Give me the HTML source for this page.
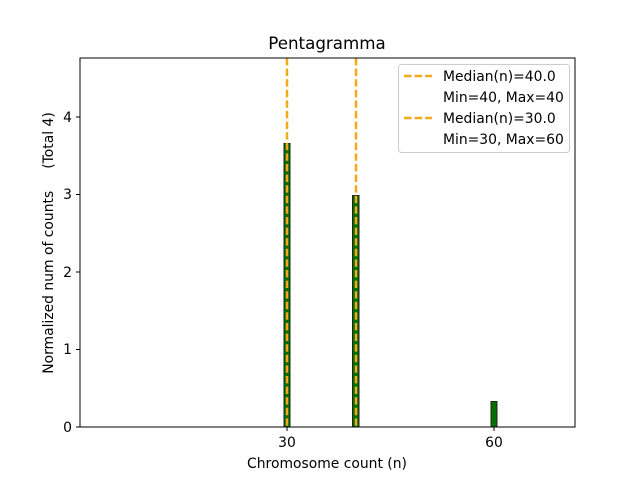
<!DOCTYPE html>
<html><head><style>body{margin:0;background:#fff}</style></head><body>
<svg width="640" height="480" xmlns="http://www.w3.org/2000/svg" font-family="DejaVu Sans, Liberation Sans, sans-serif">
<rect width="640" height="480" fill="#fff"/>
<line x1="80" y1="427" x2="380" y2="427" stroke="#333" stroke-width="1"/>
<rect x="284" y="143.5" width="6" height="283.5" fill="#007000" stroke="#222" stroke-width="1"/>
<rect x="352.5" y="195.5" width="6.5" height="231.5" fill="#007000" stroke="#222" stroke-width="1"/>
<rect x="491" y="401.5" width="6" height="25.5" fill="#007000" stroke="#222" stroke-width="1"/>
<line x1="287" y1="58" x2="287" y2="427" stroke="#f5a81c" stroke-width="2.5" stroke-dasharray="7.4,3.2"/>
<line x1="356" y1="58" x2="356" y2="427" stroke="#f5a81c" stroke-width="2.5" stroke-dasharray="7.4,3.2"/>
<rect x="80" y="58" width="495" height="369" fill="none" stroke="#000" stroke-width="1"/>
<g stroke="#000"><line x1="76" y1="427" x2="80" y2="427"/><line x1="76" y1="349.5" x2="80" y2="349.5"/><line x1="76" y1="272" x2="80" y2="272"/><line x1="76" y1="194.5" x2="80" y2="194.5"/><line x1="76" y1="117" x2="80" y2="117"/>
<line x1="287" y1="427" x2="287" y2="431"/><line x1="494" y1="427" x2="494" y2="431"/></g>
<g font-size="13.9" text-anchor="end" fill="#000"><text x="72" y="432">0</text><text x="72" y="354">1</text><text x="72" y="277">2</text><text x="72" y="199">3</text><text x="72" y="122">4</text></g>
<g font-size="13.9" text-anchor="middle"><text x="287" y="447">30</text><text x="494" y="447">60</text>
<text x="327" y="468">Chromosome count (n)</text>
<text x="327" y="49" font-size="16.7">Pentagramma</text></g>
<text transform="translate(53,243) rotate(-90)" font-size="13.9" text-anchor="middle" xml:space="preserve">Normalized num of counts     (Total 4)</text>
<rect x="398.5" y="64.5" width="171" height="88" rx="3" fill="#fff" fill-opacity="0.8" stroke="#ccc"/>
<g stroke="#f5a81c" stroke-width="2.5" stroke-dasharray="7.4,3.2"><line x1="404" y1="76" x2="432" y2="76"/><line x1="404" y1="118" x2="432" y2="118"/></g>
<g font-size="13.9"><text x="443" y="81">Median(n)=40.0</text><text x="443" y="102">Min=40, Max=40</text><text x="443" y="123">Median(n)=30.0</text><text x="443" y="144">Min=30, Max=60</text></g>
</svg>
</body></html>
